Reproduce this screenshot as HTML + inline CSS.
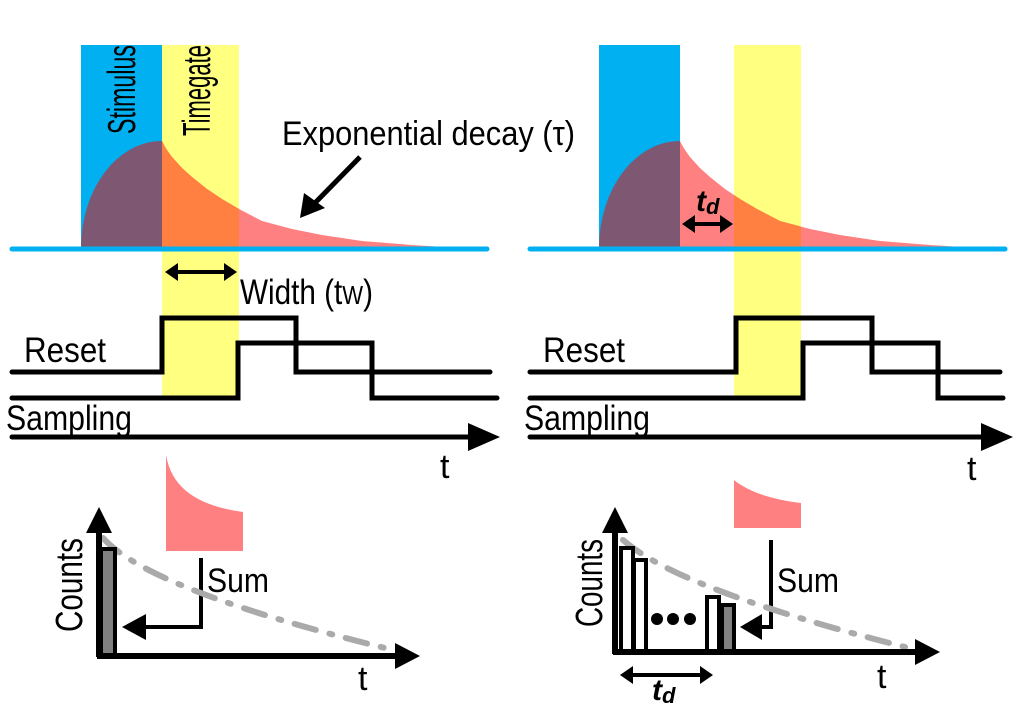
<!DOCTYPE html>
<html><head><meta charset="utf-8"><style>
html,body{margin:0;padding:0;background:#fff;}
svg{display:block;font-family:"Liberation Sans",Arial,sans-serif;}
</style></head><body>
<svg width="1024" height="708" viewBox="0 0 1024 708" xmlns="http://www.w3.org/2000/svg">
<defs>
<clipPath id="cL"><rect x="162" y="40" width="77" height="220"/></clipPath>
<clipPath id="cR"><rect x="734" y="40" width="67" height="220"/></clipPath>
</defs>
<!-- LEFT TOP -->
<rect x="81" y="45" width="81" height="204" fill="#00b0f0"/>
<rect x="162" y="45" width="77" height="353" fill="#ffff80"/>
<path d="M81,248 A81,107 0 0 1 162,141 L162,248 Z" fill="#7e5873"/>
<path d="M162,141 L164,145 167,150 172,157 182,168 192,177 207,189 222,199 239,209 262,221 292,229 322,235 362,241 412,245 460,248 L162,248 Z" fill="#ff8080"/>
<path d="M162,141 L164,145 167,150 172,157 182,168 192,177 207,189 222,199 239,209 262,221 292,229 322,235 362,241 412,245 460,248 L162,248 Z" fill="#ff8040" clip-path="url(#cL)"/>
<line x1="12" y1="249" x2="487" y2="249" stroke="#00b0f0" stroke-width="5" stroke-linecap="round"/>
<text transform="translate(135,134) rotate(-90)" font-size="39" textLength="89" lengthAdjust="spacingAndGlyphs">Stimulus</text>
<text transform="translate(210,136) rotate(-90)" font-size="39" textLength="91" lengthAdjust="spacingAndGlyphs">Timegate</text>
<text x="282" y="145" font-size="34" textLength="293" lengthAdjust="spacingAndGlyphs">Exponential decay (τ)</text>
<line x1="360" y1="157" x2="312" y2="206" stroke="#000" stroke-width="5"/>
<polygon points="300,218 304,193 325,208" fill="#000"/>
<!-- width arrow -->
<line x1="175" y1="272" x2="227" y2="272" stroke="#000" stroke-width="4"/>
<polygon points="165,272 178,263 178,281" fill="#000"/>
<polygon points="237,272 224,263 224,281" fill="#000"/>
<text x="240" y="304" font-size="35" textLength="133" lengthAdjust="spacingAndGlyphs">Width (t<tspan font-size="26">W</tspan>)</text>
<!-- waveforms -->
<polyline points="12,372 162,372 162,318 296,318 296,372 490,372" fill="none" stroke="#000" stroke-width="5" stroke-linecap="round"/>
<polyline points="12,398 238,398 238,343 372,343 372,398 497,398" fill="none" stroke="#000" stroke-width="5" stroke-linecap="round"/>
<text x="24" y="362" font-size="35" textLength="82" lengthAdjust="spacingAndGlyphs">Reset</text>
<text x="6" y="430" font-size="35" textLength="126" lengthAdjust="spacingAndGlyphs">Sampling</text>
<line x1="12" y1="437" x2="472" y2="437" stroke="#000" stroke-width="5" stroke-linecap="round"/>
<polygon points="500,437 468,423 468,451" fill="#000"/>
<text x="440" y="478" font-size="34">t</text>
<!-- LEFT BOTTOM -->
<path d="M166,455 C172,490 200,506 243,512 L243,551 L166,551 Z" fill="#ff8080"/>
<polyline points="201,558 201,627 140,627" fill="none" stroke="#000" stroke-width="4"/>
<polygon points="122,627 146,614 146,640" fill="#000"/>
<text x="207" y="592" font-size="34" textLength="62" lengthAdjust="spacingAndGlyphs">Sum</text>
<path d="M103,538 Q150,590 385,648" fill="none" stroke="#aaa" stroke-width="6" stroke-dasharray="22,14,3,14" stroke-linecap="round"/>
<rect x="101" y="549" width="14" height="107" fill="#808080" stroke="#000" stroke-width="4"/>
<line x1="99" y1="530" x2="99" y2="657" stroke="#000" stroke-width="6"/>
<polygon points="99,507 86,533 112,533" fill="#000"/>
<line x1="97" y1="656" x2="402" y2="656" stroke="#000" stroke-width="6"/>
<polygon points="420,656 395,643 395,669" fill="#000"/>
<text transform="translate(82,632) rotate(-90)" font-size="38" textLength="94" lengthAdjust="spacingAndGlyphs">Counts</text>
<text x="358" y="690" font-size="34">t</text>
<!-- RIGHT TOP -->
<rect x="599" y="45" width="81" height="204" fill="#00b0f0"/>
<rect x="734" y="45" width="67" height="353" fill="#ffff80"/>
<path d="M599,248 A81,107 0 0 1 680,141 L680,248 Z" fill="#7e5873"/>
<path d="M680,141 L682,145 685,150 690,157 700,168 710,177 725,189 740,199 757,209 780,221 810,229 840,235 880,241 930,245 978,248 L680,248 Z" fill="#ff8080"/>
<path d="M680,141 L682,145 685,150 690,157 700,168 710,177 725,189 740,199 757,209 780,221 810,229 840,235 880,241 930,245 978,248 L680,248 Z" fill="#ff8040" clip-path="url(#cR)"/>
<line x1="530" y1="249" x2="1005" y2="249" stroke="#00b0f0" stroke-width="5" stroke-linecap="round"/>
<line x1="692" y1="224" x2="722" y2="224" stroke="#000" stroke-width="4"/>
<polygon points="682,224 695,215 695,233" fill="#000"/>
<polygon points="733,224 720,215 720,233" fill="#000"/>
<text x="696" y="211" font-size="30" font-weight="bold" font-style="italic">t<tspan font-size="22" dy="3">d</tspan></text>
<polyline points="530,372 736,372 736,318 872,318 872,372 1000,372" fill="none" stroke="#000" stroke-width="5" stroke-linecap="round"/>
<polyline points="530,398 803,398 803,343 938,343 938,398 1003,398" fill="none" stroke="#000" stroke-width="5" stroke-linecap="round"/>
<text x="543" y="362" font-size="35" textLength="82" lengthAdjust="spacingAndGlyphs">Reset</text>
<text x="524" y="430" font-size="35" textLength="126" lengthAdjust="spacingAndGlyphs">Sampling</text>
<line x1="530" y1="437" x2="985" y2="437" stroke="#000" stroke-width="5" stroke-linecap="round"/>
<polygon points="1013,437 981,423 981,451" fill="#000"/>
<text x="967" y="480" font-size="34">t</text>
<!-- RIGHT BOTTOM -->
<path d="M734,480 C750,493 775,500 801,503 L801,528 L734,528 Z" fill="#ff8080"/>
<polyline points="771,540 771,627 760,627" fill="none" stroke="#000" stroke-width="4"/>
<polygon points="740,627 762,614 762,640" fill="#000"/>
<text x="777" y="592" font-size="34" textLength="62" lengthAdjust="spacingAndGlyphs">Sum</text>
<path d="M623,540 Q680,590 905,647" fill="none" stroke="#aaa" stroke-width="6" stroke-dasharray="22,14,3,14" stroke-linecap="round"/>
<rect x="621" y="548" width="12" height="104" fill="#fff" stroke="#000" stroke-width="4"/>
<rect x="634" y="560" width="12" height="92" fill="#fff" stroke="#000" stroke-width="4"/>
<rect x="707" y="597" width="12" height="55" fill="#fff" stroke="#000" stroke-width="4"/>
<rect x="722" y="605" width="12" height="47" fill="#808080" stroke="#000" stroke-width="4"/>
<circle cx="657" cy="619" r="6" fill="#000"/>
<circle cx="673" cy="619" r="6" fill="#000"/>
<circle cx="690" cy="619" r="6" fill="#000"/>
<line x1="615" y1="530" x2="615" y2="654" stroke="#000" stroke-width="6"/>
<polygon points="615,507 602,533 628,533" fill="#000"/>
<line x1="613" y1="652" x2="922" y2="652" stroke="#000" stroke-width="6"/>
<polygon points="940,652 915,639 915,665" fill="#000"/>
<text transform="translate(602,627) rotate(-90)" font-size="38" textLength="88" lengthAdjust="spacingAndGlyphs">Counts</text>
<text x="877" y="688" font-size="34">t</text>
<line x1="630" y1="675" x2="703" y2="675" stroke="#000" stroke-width="4"/>
<polygon points="620,675 633,666 633,684" fill="#000"/>
<polygon points="713,675 700,666 700,684" fill="#000"/>
<text x="652" y="700" font-size="30" font-weight="bold" font-style="italic">t<tspan font-size="22" dy="3">d</tspan></text>
</svg>
</body></html>
